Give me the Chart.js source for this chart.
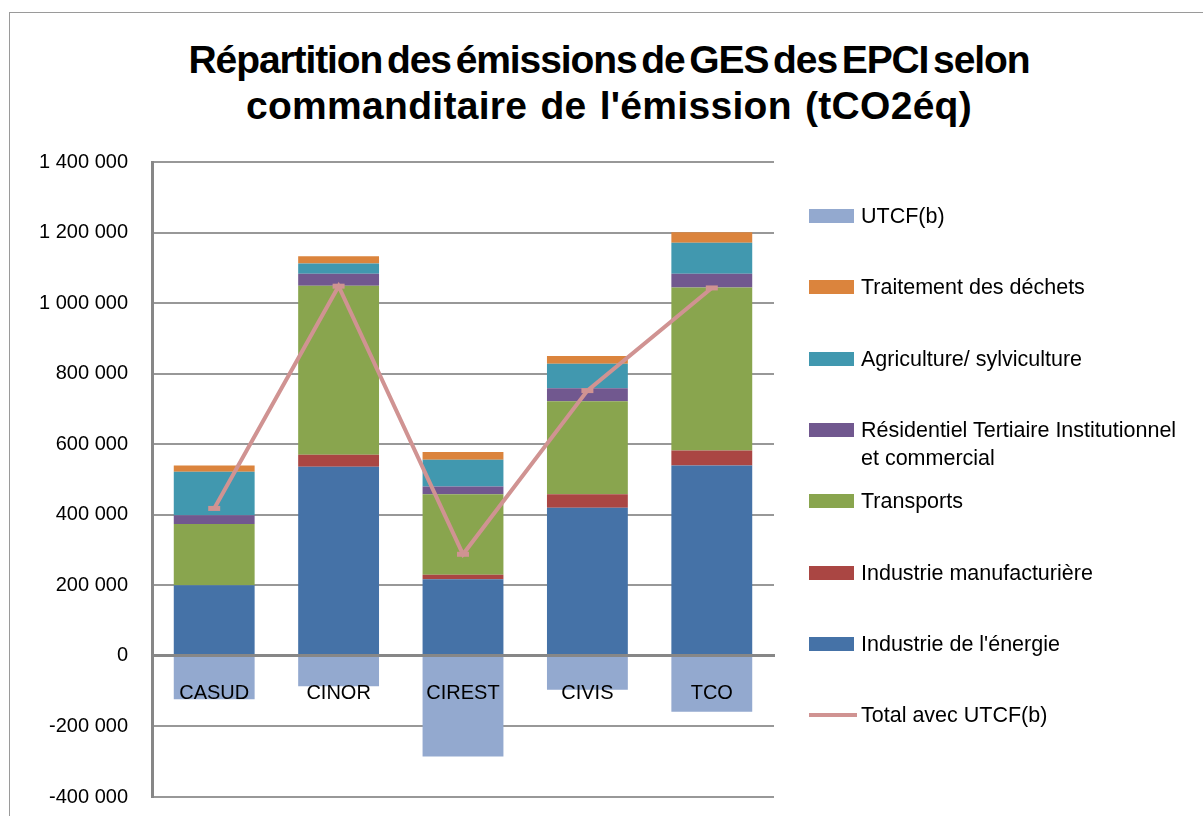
<!DOCTYPE html>
<html lang="fr">
<head>
<meta charset="UTF-8">
<title>Répartition des émissions de GES des EPCI</title>
<script src="https://cdn.jsdelivr.net/npm/chart.js"></script>
<style>
    body { margin: 0; background: #fff; font-family: "Liberation Sans", Arial, sans-serif; }
    #wrap { position: relative; width: 1203px; height: 816px; overflow: hidden; }
    #frame { position: absolute; left: 9px; top: 12px; width: 1200px; height: 900px; border: 1px solid #9a9a9a; box-sizing: border-box; }
    #title { position: absolute; left: 9px; top: 37px; width: 1200px; text-align: center;
             font-weight: bold; font-size: 39px; line-height: 46px; color: #000; }
    #title .l1 { letter-spacing: -1.1px; word-spacing: -5px; }
    #title .l2 { letter-spacing: 0.3px; word-spacing: 2px; }
    canvas { position: absolute; left: 0; top: 0; }
    .item { position: absolute; left: 809px; font-size: 21.5px; line-height: 28px; color: #000; }
    .item .sw { position: absolute; left: 0; top: 7px; width: 45px; height: 14px; }
    .item .sw.ln { top: 12px; height: 4px; width: 48px; }
    .item .tx { position: absolute; left: 52px; width: 335px; }
</style>
</head>
<body>
<div id="wrap">
    <div id="frame"></div>
    <div id="title"><span class="l1">Répartition des émissions de GES des EPCI selon</span><br><span class="l2">commanditaire de l'émission (tCO2éq)</span></div>
    <canvas id="chart" width="1203" height="816"></canvas>
    <div id="legend"></div>
</div>
<script>
// données (tCO2éq)
const categories = ['CASUD', 'CINOR', 'CIREST', 'CIVIS', 'TCO'];
const energie = [200000, 536000, 217000, 420000, 540000];
const manufacturiere = [0, 34000, 13000, 38000, 42000];
const transports = [174000, 479000, 228000, 264000, 462000];
const residentiel = [25000, 34000, 22000, 37000, 39000];
const agriculture = [123000, 29000, 76000, 69000, 88000];
const dechets = [18000, 21000, 22000, 22000, 30000];
const utcf = [-123000, -86000, -285000, -96000, -158000];
const totalAvecUtcf = [418000, 1048000, 288000, 752000, 1043000];

const barSeries = [
    { label: "Industrie de l'énergie", data: energie, color: '#4572A7' },
    { label: 'Industrie manufacturière', data: manufacturiere, color: '#AA4643' },
    { label: 'Transports', data: transports, color: '#89A54E' },
    { label: 'Résidentiel Tertiaire Institutionnel et commercial', data: residentiel, color: '#71588F' },
    { label: 'Agriculture/ sylviculture', data: agriculture, color: '#4198AF' },
    { label: 'Traitement des déchets', data: dechets, color: '#DB843D' },
    { label: 'UTCF(b)', data: utcf, color: '#93A9CF' }
];
const lineColor = '#D09392';

const datasets = barSeries.map(s => ({
    type: 'bar',
    label: s.label,
    data: s.data,
    backgroundColor: s.color,
    borderWidth: 0,
    stack: 's',
    order: 1,
    barPercentage: 0.65,
    categoryPercentage: 1
}));
datasets.push({
    type: 'line',
    label: 'Total avec UTCF(b)',
    data: totalAvecUtcf,
    borderColor: lineColor,
    backgroundColor: lineColor,
    borderWidth: 4,
    pointStyle: 'line',
    pointRadius: 6,
    pointBorderWidth: 5,
    tension: 0,
    order: 0
});

const fmt = v => {
    const s = Math.abs(v).toString().replace(/\B(?=(\d{3})+(?!\d))/g, ' ');
    return (v < 0 ? '-' : '') + s;
};

const noPad = s => { s.paddingTop = 0; s.paddingBottom = 0; s.paddingLeft = 0; s.paddingRight = 0; };

new Chart(document.getElementById('chart'), {
    type: 'bar',
    data: { labels: categories, datasets: datasets },
    options: {
        responsive: false,
        animation: false,
        layout: { padding: { left: 0, top: 162, right: 429, bottom: 19 } },
        plugins: { legend: { display: false }, tooltip: { enabled: false }, title: { display: false } },
        scales: {
            x: {
                stacked: true,
                position: { y: 0 },
                afterFit: s => { noPad(s); s.height = 0; },
                grid: { display: false, drawTicks: false },
                border: { display: true, color: '#878787', width: 3, z: 1 },
                ticks: { z: 1, color: '#000', padding: 26, font: { family: '"Liberation Sans", Arial', size: 20 } }
            },
            y: {
                stacked: true,
                min: -400000,
                max: 1400000,
                afterFit: s => { noPad(s); s.width = 152; },
                grid: { color: '#989898', lineWidth: 2, drawTicks: false },
                border: { display: true, color: '#878787', width: 3 },
                ticks: {
                    stepSize: 200000,
                    color: '#000',
                    padding: 24,
                    font: { family: '"Liberation Sans", Arial', size: 20 },
                    callback: v => fmt(v)
                }
            }
        }
    }
});

// légende à droite, dans l'ordre inverse des séries
const legendItems = barSeries.slice().reverse().map(s => ({ label: s.label, color: s.color, line: false }));
legendItems.push({ label: 'Total avec UTCF(b)', color: lineColor, line: true });
const legend = document.getElementById('legend');
legendItems.forEach((it, i) => {
    const d = document.createElement('div');
    d.className = 'item';
    d.style.top = (202 + i * 71.3) + 'px';
    d.innerHTML = '<span class="sw' + (it.line ? ' ln' : '') + '" style="background:' + it.color + '"></span>' +
        '<span class="tx">' + it.label + '</span>';
    legend.appendChild(d);
});
</script>
</body>
</html>
